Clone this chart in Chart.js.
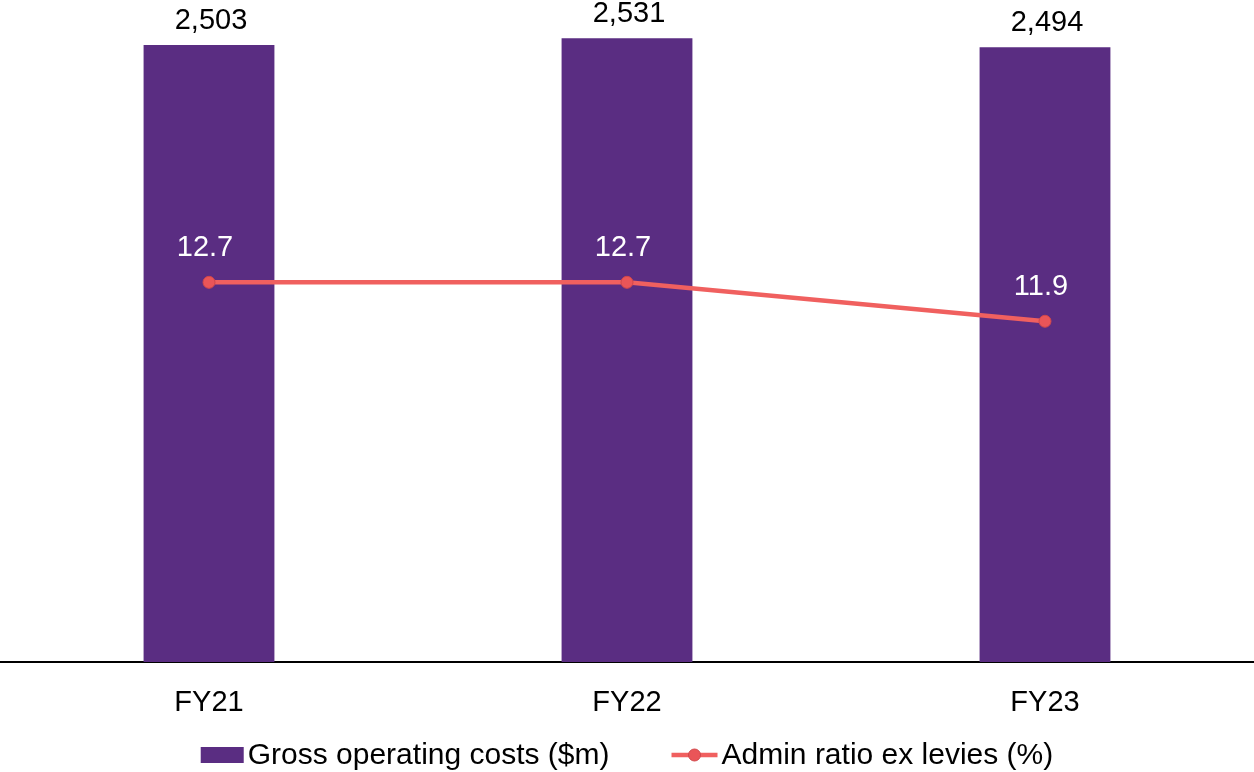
<!DOCTYPE html>
<html>
<head>
<meta charset="utf-8">
<script src="https://cdn.jsdelivr.net/npm/chart.js@4/dist/chart.umd.min.js"></script>
<style>
  html, body { margin: 0; padding: 0; background: #ffffff; }
  #wrap { width: 1254px; height: 772px; position: relative; }
</style>
</head>
<body>
<div id="wrap"><canvas id="c" width="1254" height="772"></canvas></div>
<script>
const categories = ['FY21', 'FY22', 'FY23'];
const grossCosts = [2503, 2531, 2494];
const adminRatio = [12.7, 12.7, 11.9];
const seriesNames = ['Gross operating costs ($m)', 'Admin ratio ex levies (%)'];

const PURPLE = '#5a2d82';
const CORAL = '#f0605f';
const FONT = 'Arial, "Liberation Sans", sans-serif';

// value labels above bars and line points
const valueLabels = {
  id: 'valueLabels',
  afterDatasetsDraw(chart) {
    const ctx = chart.ctx;
    ctx.save();
    ctx.font = '29px ' + FONT;
    ctx.textAlign = 'center';
    ctx.textBaseline = 'alphabetic';
    chart.getDatasetMeta(0).data.forEach((el, i) => {
      ctx.fillStyle = '#000000';
      ctx.fillText(grossCosts[i].toLocaleString('en-US'), el.x + 2, el.y - 16);
    });
    chart.getDatasetMeta(1).data.forEach((el, i) => {
      ctx.fillStyle = '#ffffff';
      ctx.fillText(adminRatio[i].toFixed(1), el.x - 4, el.y - 26);
    });
    ctx.restore();
  }
};

// bottom legend: swatch for bars, line-with-marker for the ratio
const bottomLegend = {
  id: 'bottomLegend',
  afterDraw(chart) {
    const ctx = chart.ctx;
    ctx.save();
    ctx.font = '30px ' + FONT;
    ctx.textBaseline = 'middle';
    ctx.textAlign = 'left';
    const y = 755;
    const w1 = ctx.measureText(seriesNames[0]).width;
    const w2 = ctx.measureText(seriesNames[1]).width;
    const boxW = 43, lineW = 46, gap = 4, between = 62;
    const total = boxW + gap + w1 + between + lineW + gap + w2;
    let x = (chart.width - total) / 2;
    ctx.fillStyle = PURPLE;
    ctx.fillRect(x, y - 8, boxW, 16);
    x += boxW + gap;
    ctx.fillStyle = '#000000';
    ctx.fillText(seriesNames[0], x, y + 1);
    x += w1 + between;
    ctx.strokeStyle = CORAL;
    ctx.lineWidth = 4.5;
    ctx.beginPath();
    ctx.moveTo(x, y);
    ctx.lineTo(x + lineW, y);
    ctx.stroke();
    ctx.beginPath();
    ctx.arc(x + lineW / 2, y, 6, 0, Math.PI * 2);
    ctx.fillStyle = '#ea5558';
    ctx.fill();
    ctx.lineWidth = 1;
    ctx.strokeStyle = '#d0474b';
    ctx.stroke();
    x += lineW + gap;
    ctx.fillStyle = '#000000';
    ctx.fillText(seriesNames[1], x, y + 1);
    ctx.restore();
  }
};

new Chart(document.getElementById('c'), {
  type: 'bar',
  data: {
    labels: categories,
    datasets: [
      {
        type: 'bar',
        label: seriesNames[0],
        data: grossCosts,
        backgroundColor: PURPLE,
        categoryPercentage: 1,
        barPercentage: 0.313,
        yAxisID: 'y',
        order: 2
      },
      {
        type: 'line',
        label: seriesNames[1],
        data: adminRatio,
        borderColor: CORAL,
        borderWidth: 4.5,
        pointRadius: 6,
        pointBackgroundColor: '#ea5558',
        pointBorderColor: '#d0474b',
        pointBorderWidth: 1,
        tension: 0,
        clip: false,
        yAxisID: 'y1',
        order: 1
      }
    ]
  },
  options: {
    responsive: false,
    animation: false,
    layout: { padding: 0, autoPadding: false },
    plugins: {
      legend: { display: false },
      tooltip: { enabled: false }
    },
    scales: {
      x: {
        grid: { display: false, drawTicks: false },
        border: { display: true, color: '#000000', width: 2 },
        ticks: {
          color: '#000000',
          font: { family: FONT, size: 29 },
          padding: 24
        },
        afterFit(scale) { scale.height = 110; }
      },
      y: {
        display: false,
        min: 0,
        max: 2686
      },
      y1: {
        display: false,
        min: 4.9,
        max: 18.5
      }
    }
  },
  plugins: [valueLabels, bottomLegend]
});
</script>
</body>
</html>
